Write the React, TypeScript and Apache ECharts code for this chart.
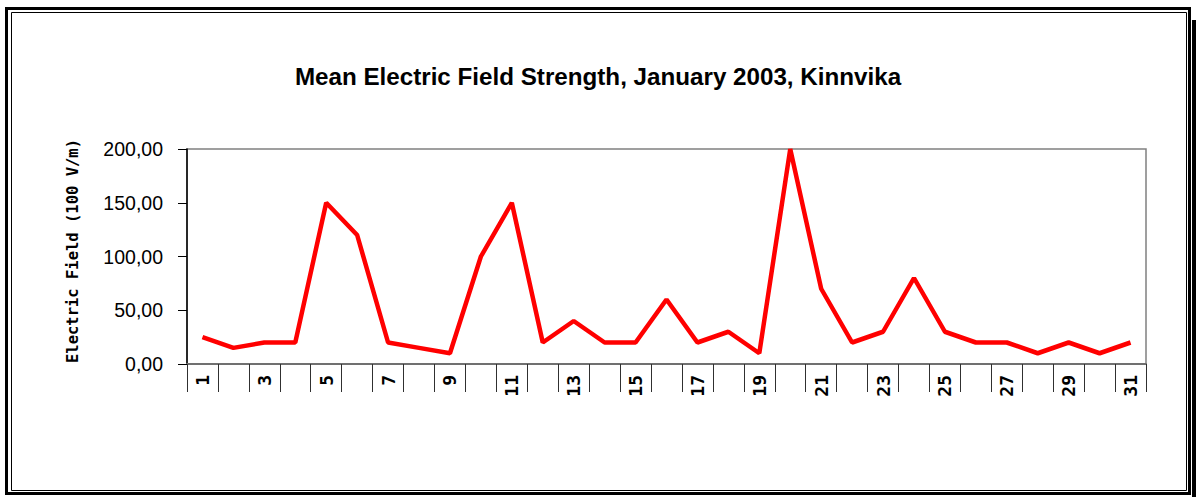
import React, { useEffect, useRef } from "react";
import * as echarts from "echarts";

const days = Array.from({ length: 31 }, (_, i) => String(i + 1));
const fieldValues = [25, 15, 20, 20, 150, 120, 20, 15, 10, 100, 150, 20, 40, 20, 20, 60, 20, 30, 10, 200, 70, 20, 30, 80, 30, 20, 20, 10, 20, 10, 20];
const titleText = "Mean Electric Field Strength, January 2003, Kinnvika";
const yAxisTitle = "Electric Field (100 V/m)";

export default function App() {
  const ref = useRef<HTMLDivElement>(null);
  useEffect(() => {
    document.body.style.margin = "0";
    const chart = echarts.init(ref.current!, null, { renderer: "svg" });
    chart.setOption({
      animation: false,
      backgroundColor: "#ffffff",
      title: {
        text: titleText,
        left: "center",
        top: 59,
        textStyle: { fontFamily: "Liberation Sans, Arial", fontWeight: "bold", fontSize: 24.2, color: "#000" },
      },
      grid: { left: 187, right: 50, top: 149, bottom: 133, show: true, borderColor: "#808080", borderWidth: 1.5, backgroundColor: "transparent" },
      xAxis: {
        type: "category",
        data: days,
        boundaryGap: true,
        axisLine: { lineStyle: { color: "#707070", width: 2 } },
        axisTick: { show: true, interval: 0, length: 28, inside: false, lineStyle: { color: "#303030", width: 1 } },
        axisLabel: { interval: 1, rotate: 90, margin: 11, fontFamily: "DejaVu Sans Mono", fontWeight: "bold", fontSize: 18, color: "#000" },
        splitLine: { show: false },
      },
      yAxis: {
        type: "value",
        min: 0,
        max: 200,
        interval: 50,
        axisLine: { show: true, lineStyle: { color: "#000", width: 1.5 } },
        axisTick: { show: true, length: 9, lineStyle: { color: "#000" } },
        axisLabel: {
          margin: 24,
          fontFamily: "Liberation Sans, Arial",
          fontSize: 19.5,
          color: "#000",
          formatter: (v: number) => v.toFixed(2).replace(".", ","),
        },
        splitLine: { show: false },
      },
      series: [
        {
          type: "line",
          data: fieldValues,
          symbol: "none",
          lineStyle: { color: "#ff0000", width: 4.5 },
        },
      ],
      graphic: [
        { type: "rect", shape: { x: 6.5, y: 8.5, width: 1183, height: 485 }, style: { fill: "none", stroke: "#000", lineWidth: 3 } },
        { type: "rect", shape: { x: 11.5, y: 12.5, width: 1175, height: 478 }, style: { fill: "none", stroke: "#000", lineWidth: 1 } },
        { type: "rect", shape: { x: 1192, y: 20, width: 4, height: 477 }, style: { fill: "#000" } },
        {
          type: "text",
          x: 73,
          y: 251,
          rotation: Math.PI / 2,
          style: {
            text: yAxisTitle,
            x: 0,
            y: 0,
            textAlign: "center",
            textVerticalAlign: "middle",
            fontFamily: "DejaVu Sans Mono",
            fontWeight: "bold",
            fontSize: 15.5,
            fill: "#000",
          },
        },
      ],
    });
    return () => chart.dispose();
  }, []);
  return <div ref={ref} style={{ width: 1196, height: 497 }} />;
}
